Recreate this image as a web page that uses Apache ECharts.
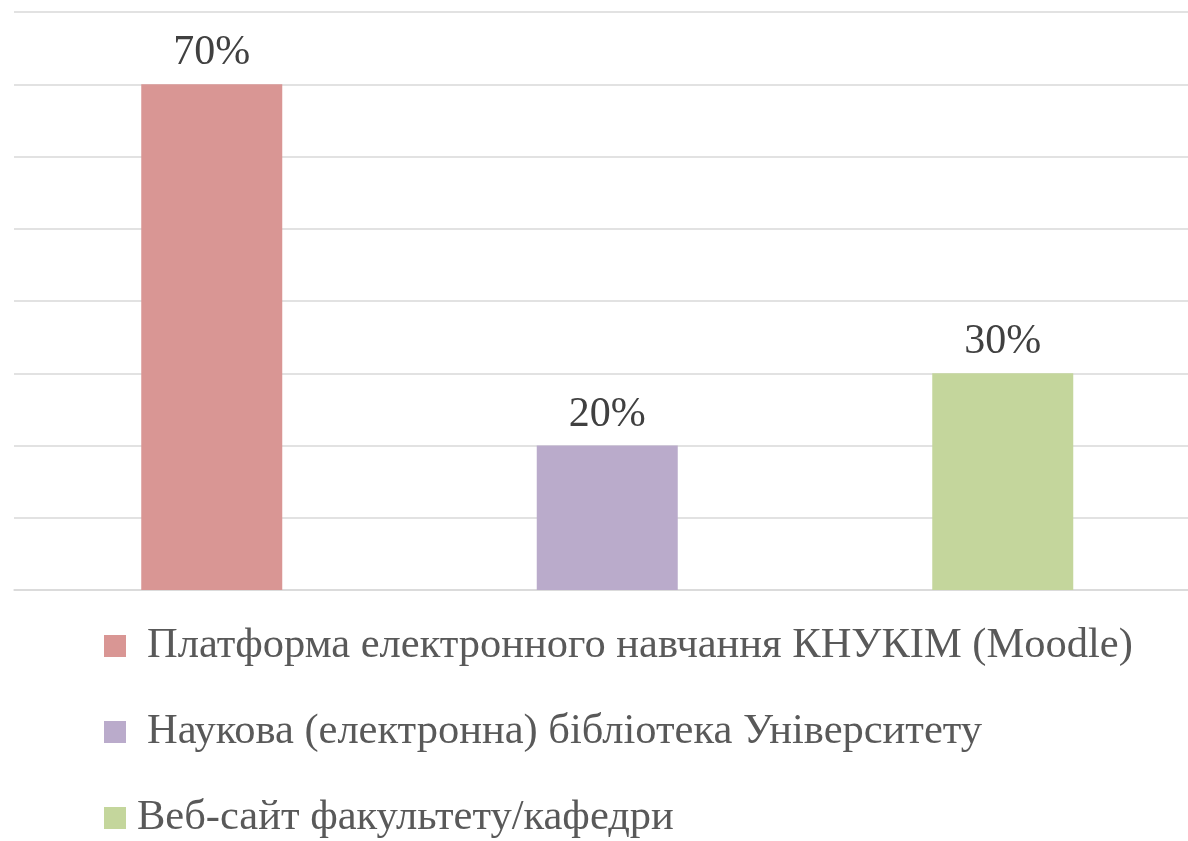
<!DOCTYPE html>
<html>
<head>
<meta charset="utf-8">
<script src="https://cdn.jsdelivr.net/npm/echarts@6/dist/echarts.min.js"></script>
<style>
  html, body { margin: 0; padding: 0; background: #fff; }
  #chart { width: 1188px; height: 841px; }
</style>
</head>
<body>
<div id="chart"></div>
<script>
// categories / values
var categories = [
    'Платформа електронного навчання КНУКІМ (Moodle)',
    'Наукова (електронна) бібліотека Університету',
    'Веб-сайт факультету/кафедри'
];
var values = [70, 20, 30];
var palette = ['#D99694', '#BAABCB', '#C4D69C'];

var serif = "'Liberation Serif', 'Times New Roman', serif";

var myChart = echarts.init(document.getElementById('chart'));

// one series per category so the legend shows every bar
var series = categories.map(function (name, i) {
    return {
        name: name,
        type: 'bar',
        stack: 'all',
        barWidth: 141,
        itemStyle: {color: palette[i]},
        label: {
            show: true,
            position: 'top',
            distance: 10,
            formatter: '{c}%',
            fontFamily: serif,
            fontSize: 42,
            color: '#404040'
        },
        data: values.map(function (v, j) {
            return j === i ? v : '-';
        })
    };
});

var option = {
    animation: false,
    grid: {
        left: 14,
        right: -12.5,
        top: 12,
        bottom: 251,
        outerBoundsMode: 'none'
    },
    legend: {
        orient: 'vertical',
        left: 104,
        top: 621,
        height: 230,
        padding: 0,
        icon: 'rect',
        itemWidth: 22,
        itemHeight: 22,
        itemGap: 36,
        textStyle: {
            fontFamily: serif,
            fontSize: 42.5,
            lineHeight: 50,
            color: '#595959'
        },
        data: [
            {name: categories[0], textStyle: {padding: [0, 0, 0, 16]}},
            {name: categories[1], textStyle: {padding: [0, 0, 0, 16]}},
            {name: categories[2], textStyle: {padding: [0, 0, 0, 6]}}
        ]
    },
    xAxis: {
        type: 'category',
        data: categories,
        axisLine: {lineStyle: {color: '#D9D9D9', width: 1.5}},
        axisTick: {show: false},
        axisLabel: {show: false}
    },
    yAxis: {
        type: 'value',
        min: 0,
        max: 80,
        interval: 10,
        axisLine: {show: false},
        axisTick: {show: false},
        axisLabel: {show: false},
        splitLine: {lineStyle: {color: '#D9D9D9', width: 1.5}}
    },
    series: series
};

myChart.setOption(option);
</script>
</body>
</html>
